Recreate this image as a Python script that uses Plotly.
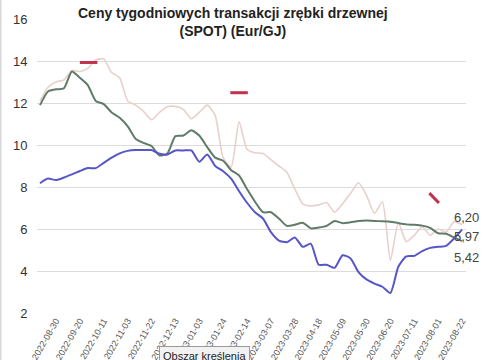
import plotly.graph_objects as go

# weekly index 0..53 (first point two weeks before first labelled date)
tick_labels = ["2022-08-30", "2022-09-20", "2022-10-11", "2022-11-03", "2022-11-22",
               "2022-12-13", "2023-01-03", "2023-01-24", "2023-02-14", "2023-03-07",
               "2023-03-28", "2023-04-18", "2023-05-09", "2023-05-30", "2023-06-20",
               "2023-07-11", "2023-08-01", "2023-08-22"]
tick_index = [2 + 3 * k for k in range(len(tick_labels))]

pink = [12.1, 12.75, 13.0, 13.1, 13.55, 13.5, 13.65, 14.05, 14.1, 13.45,
        13.2, 12.1, 11.9, 11.6, 11.2, 11.55, 11.82, 11.84, 11.7, 11.25,
        11.55, 11.9, 11.4, 9.4, 8.95, 11.1, 9.8, 9.63, 9.6, 9.3,
        9.0, 8.7, 7.9, 7.2, 7.1, 7.15, 7.26, 6.8, 7.2, 7.7,
        8.2, 7.6, 6.75, 7.3, 4.5, 6.3, 5.4, 5.7, 6.1, 5.7,
        6.0, 5.85, 6.35, 6.20]
green = [11.9, 12.55, 12.65, 12.7, 13.5, 13.2, 12.85, 12.1, 11.95, 11.55,
         11.3, 10.9, 10.3, 10.1, 9.95, 9.5, 9.6, 10.42, 10.45, 10.7,
         10.45, 9.9, 9.4, 9.25, 8.8, 8.55, 7.9, 7.3, 6.8, 6.8,
         6.5, 6.15, 6.2, 6.3, 6.03, 6.07, 6.15, 6.38, 6.28, 6.32,
         6.38, 6.4, 6.38, 6.37, 6.35, 6.28, 6.22, 6.2, 6.16, 6.05,
         5.8, 5.77, 5.6, 5.42]
blue = [8.18, 8.4, 8.33, 8.45, 8.6, 8.76, 8.9, 8.9, 9.15, 9.4,
        9.6, 9.72, 9.76, 9.76, 9.76, 9.58, 9.55, 9.74, 9.74, 9.74,
        9.2, 9.55, 9.0, 8.75, 8.4, 7.8, 7.25, 6.8, 6.5, 5.85,
        5.45, 5.37, 5.6, 5.15, 5.3, 4.3, 4.3, 4.15, 4.75, 4.6,
        3.95, 3.6, 3.4, 3.25, 2.95, 4.2, 4.7, 4.72, 4.95, 5.1,
        5.15, 5.2, 5.55, 5.97]

# forward (red) segments: start/end week index and start/end values
fwd_x0 = [5.0, 23.9, 48.9]
fwd_x1 = [7.2, 26.1, 50.1]
fwd_v0 = [13.93, 12.49, 7.71]
fwd_v1 = [13.93, 12.49, 7.24]

x = list(range(len(blue)))

W, H = 485, 360
L, R, T, B = 37, 466, 19, 313

def px(xp):
    return (xp - L) / (R - L)

def py(yp):
    return (B - yp) / (B - T)

FONT = "Liberation Sans, Arial"

fig = go.Figure()
fig.add_trace(go.Scatter(x=x, y=pink, mode="lines", line=dict(color="#e8d0cb", width=1.6, shape="spline", smoothing=0.6), hoverinfo="skip"))
fig.add_trace(go.Scatter(x=x, y=green, mode="lines", line=dict(color="#5f7c68", width=2, shape="spline", smoothing=0.6), hoverinfo="skip"))
fig.add_trace(go.Scatter(x=x, y=blue, mode="lines", line=dict(color="#5656c8", width=2, shape="spline", smoothing=0.6), hoverinfo="skip"))
for a, b, c, d in zip(fwd_x0, fwd_x1, fwd_v0, fwd_v1):
    fig.add_trace(go.Scatter(x=[a, b], y=[c, d], mode="lines", line=dict(color="#c2324c", width=3), hoverinfo="skip"))

def fmt(v):
    return f"{v:.2f}".replace(".", ",")

labels = [(fmt(pink[-1]), 217), (fmt(blue[-1]), 237), (fmt(green[-1]), 257)]
for txt, yp in labels:
    fig.add_annotation(x=px(452), y=py(yp), xref="paper", yref="paper", text=txt,
                       showarrow=False, xanchor="left", yanchor="middle",
                       font=dict(family=FONT, size=13, color="#444444"))

fig.add_annotation(x=px(233), y=py(3), xref="paper", yref="paper",
                   text="<b>Ceny tygodniowych transakcji zrębki drzewnej<br>(SPOT) (Eur/GJ)</b>",
                   showarrow=False, xanchor="center", yanchor="top", align="center",
                   font=dict(family=FONT, size=14, color="#222222"))

fig.add_annotation(x=px(204), y=py(346), xref="paper", yref="paper", text="Obszar kreślenia",
                   showarrow=False, xanchor="center", yanchor="top",
                   font=dict(family=FONT, size=11, color="#222222"),
                   bgcolor="#f2f2f2", bordercolor="#9a9a9a", borderwidth=1, borderpad=3)

fig.add_shape(type="line", xref="paper", yref="paper", x0=px(0.5), x1=px(0.5), y0=py(0), y1=py(360),
              line=dict(color="#d8d8d8", width=2))

fig.update_layout(
    width=W, height=H,
    margin=dict(l=L, r=W - R, t=T, b=H - B, autoexpand=False),
    paper_bgcolor="white", plot_bgcolor="white",
    showlegend=False,
    xaxis=dict(range=[-0.38, 53.5], tickmode="array", tickvals=tick_index, ticktext=tick_labels,
               tickangle=-60, showgrid=False, zeroline=False, showline=False, ticks="", automargin=False,
               tickfont=dict(family=FONT, size=9, color="#555555")),
    yaxis=dict(range=[2, 16], tickmode="array", tickvals=[2, 4, 6, 8, 10, 12, 14, 16],
               showgrid=True, gridcolor="#dcdcdc", gridwidth=1, zeroline=False, showline=False,
               ticks="outside", ticklen=6, tickcolor="rgba(0,0,0,0)", automargin=False,
               tickfont=dict(family=FONT, size=13, color="#333333")),
)

fig.write_html("out.html", config={"displayModeBar": False},
               post_script="document.body.style.margin='0';")
